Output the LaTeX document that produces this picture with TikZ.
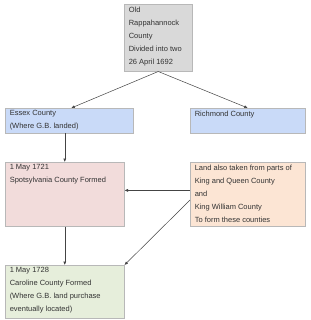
\documentclass[tikz,border=0pt]{standalone}
\usepackage{fontspec}
\setmainfont{Liberation Sans}
\usetikzlibrary{arrows.meta,calc}
\definecolor{cgray}{HTML}{D9D9D9}
\definecolor{cblue}{HTML}{C9DAF8}
\definecolor{cpink}{HTML}{F2DCDB}
\definecolor{corange}{HTML}{FCE5D4}
\definecolor{cgreen}{HTML}{E6EEDB}
\definecolor{ctext}{HTML}{333333}
\definecolor{cline}{HTML}{444444}
\newcommand{\boxtxt}[3]{\parbox[c][\dimexpr#2pt-5pt\relax][t]{\dimexpr#1pt-9pt\relax}{\raggedright\fontsize{7.5}{13}\selectfont #3}}
\begin{document}
\begin{tikzpicture}[x=1pt,y=-1pt,
  box/.style={draw=black!28,line width=0.5pt,anchor=north west,inner xsep=4.5pt,inner ysep=2.5pt,text=ctext},
  conn/.style={draw=cline,line width=0.5pt,-{Latex[length=3.5pt,width=3pt]}}]
\useasboundingbox[fill=white] (0,0) rectangle (310,320);
\node[box,fill=cgray] (old) at (124,4) {\boxtxt{68}{67}{Old\\Rappahannock\\County\\Divided into two\\26 April 1692}};
\node[box,fill=cblue] (essex) at (5,108) {\boxtxt{128}{25}{Essex County\\(Where G.B. landed)}};
\node[box,fill=cblue] (rich) at (190,108) {\boxtxt{115}{25}{Richmond County}};
\node[box,fill=cpink] (spot) at (5,162) {\boxtxt{119}{64}{1 May 1721\\Spotsylvania County Formed}};
\node[box,fill=corange] (land) at (190,162) {\boxtxt{115}{64}{Land also taken from parts of\\King and Queen County\\and\\King William County\\To form these counties}};
\node[box,fill=cgreen] (caro) at (5,265) {\boxtxt{119}{53}{1 May 1728\\Caroline County Formed\\(Where G.B. land purchase\\eventually located)}};
\coordinate (l1) at ($(land.north west)!0.44!(land.south west)$);
\coordinate (l2) at ($(land.north west)!0.59!(land.south west)$);
\draw[conn] (old.south) -- ([xshift=2pt]essex.north);
\draw[conn] (old.south) -- (rich.north);
\draw[conn] (essex.south -| spot.north) -- (spot.north);
\draw[conn] (l1) -- (l1 -| spot.east);
\draw[conn] (spot.south) -- (caro.north);
\draw[conn] (l2) -- (caro.north east);
\end{tikzpicture}
\end{document}
